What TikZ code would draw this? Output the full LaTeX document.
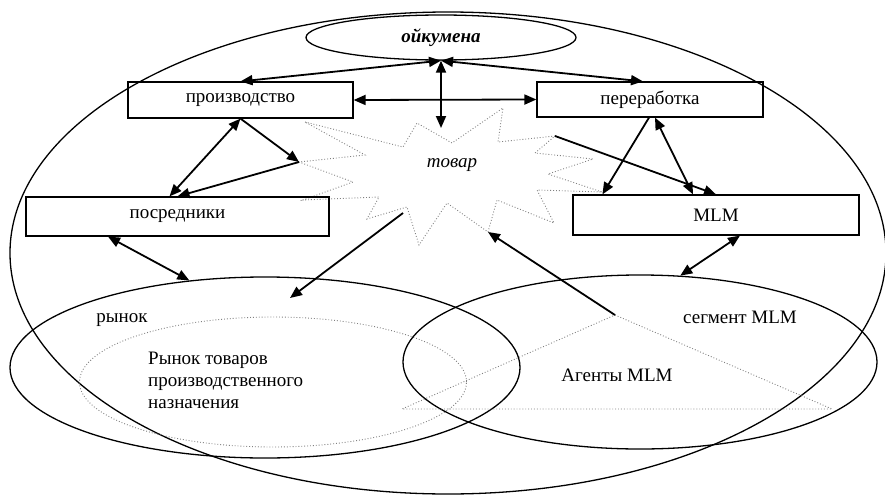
\documentclass[tikz,border=0pt]{standalone}
\usepackage{fontspec}
\setmainfont{Liberation Serif}
\usetikzlibrary{arrows.meta,shapes.geometric}

\begin{document}
\begin{tikzpicture}[x=1pt,y=-1pt,
  font=\fontsize{19}{22}\selectfont,
  box/.style={draw,line width=1.2pt,rectangle,inner sep=0pt},
  oval/.style={draw,line width=1.3pt,ellipse,inner sep=0pt},
  fine/.style={draw=gray,dotted,line width=0.9pt},
  tip/.tip={Triangle[length=12pt,width=10pt]},
  link/.style={line width=1.8pt,-tip},
  dlink/.style={line width=1.8pt,tip-tip},
]
\useasboundingbox (0,0) rectangle (885,495);

% large enclosing ellipse and the market ellipses
\node[oval,minimum width=876pt,minimum height=482pt] (world) at (448,253) {};
\node[oval,minimum width=510pt,minimum height=181pt] (rynok) at (265,367.5) {};
\node[ellipse,fine,inner sep=0pt,minimum width=387pt,minimum height=130pt] (ptn) at (273,382) {};
\node[oval,minimum width=474pt,minimum height=174pt] (segm) at (640,362) {};

% agents triangle
\coordinate (ta) at (615,315);
\coordinate (tl) at (402,409);
\coordinate (tr) at (832,409);
\draw[fine] (ta) -- (tr) -- (tl) -- cycle;

% goods star
\coordinate (s1) at (305,122);
\coordinate (s2) at (403,147);
\coordinate (s3) at (417,123);
\coordinate (s4) at (452,143);
\coordinate (s5) at (503,108);
\coordinate (s6) at (498,142);
\coordinate (s7) at (555,136);
\coordinate (s8) at (535,153);
\coordinate (s9) at (593,159);
\coordinate (s10) at (548,174);
\coordinate (s11) at (602,192);
\coordinate (s12) at (537,190);
\coordinate (s13) at (554,223);
\coordinate (s14) at (497,200);
\coordinate (s15) at (488,232);
\coordinate (s16) at (447,203);
\coordinate (s17) at (419,245);
\coordinate (s18) at (407,207);
\coordinate (s19) at (367,219);
\coordinate (s20) at (379,197);
\coordinate (s21) at (303,200);
\coordinate (s22) at (353,182);
\coordinate (s23) at (299,162);
\coordinate (s24) at (365,155);
\draw[fine] (s1) -- (s2) -- (s3) -- (s4) -- (s5) -- (s6) -- (s7) -- (s8)
  -- (s9) -- (s10) -- (s11) -- (s12) -- (s13) -- (s14) -- (s15) -- (s16)
  -- (s17) -- (s18) -- (s19) -- (s20) -- (s21) -- (s22) -- (s23) -- (s24) -- cycle;
\coordinate (tvtop) at (441,128);
\coordinate (tvsw) at (403,213);
\coordinate (rynk) at (290,298);

% boxes
\node[oval,minimum width=270pt,minimum height=45pt] (oik) at (441,37.5) {\bfseries\itshape ойкумена};
\node[box,minimum width=225pt,minimum height=36pt] (prod) at (240.5,100) {производство};
\node[box,minimum width=226pt,minimum height=35pt] (proc) at (650,99.5) {переработка};
\node[box,minimum width=303pt,minimum height=39pt] (posr) at (177.5,216.5) {посредники};
\node[box,minimum width=286pt,minimum height=40pt] (mlm) at (716,215) {MLM};

% labels
\node (tovar) at (452,165) {\itshape товар};
\node (rynokt) at (122,320) {рынок};
\node[align=left,anchor=west,inner sep=0pt] (ptnt) at (148,380)
  {Рынок товаров\\производственного\\назначения};
\node (segt) at (740,317) {сегмент MLM};
\node (agt) at (617,375) {Агенты MLM};

% connectors
\draw[dlink] (oik.south) -- (prod.north);
\draw[dlink] (oik.south) -- ([xshift=-7pt]proc.north);
\draw[dlink] (oik.south) -- (tvtop);
\draw[dlink] (prod.east) -- (proc.west);
\draw[dlink] (prod.south) -- ([xshift=-8pt]posr.north);
\draw[link] (prod.south) -- (s23);
\draw[link] (s23) -- (posr.north);
\draw[dlink] ([xshift=-69.5pt]posr.south) -- (rynok.131);
\draw[link] (tvsw) -- (rynk);
\draw[link] (ta) -- (s15);
\draw[link] (s7) -- (mlm.north);
\draw[link] ([xshift=-1pt]proc.south) -- ([xshift=30pt]mlm.north west);
\draw[dlink] ([xshift=5pt]proc.south) -- ([xshift=-23pt]mlm.north);
\draw[dlink] ([xshift=24pt]mlm.south) -- (segm.65);
\end{tikzpicture}
\end{document}
